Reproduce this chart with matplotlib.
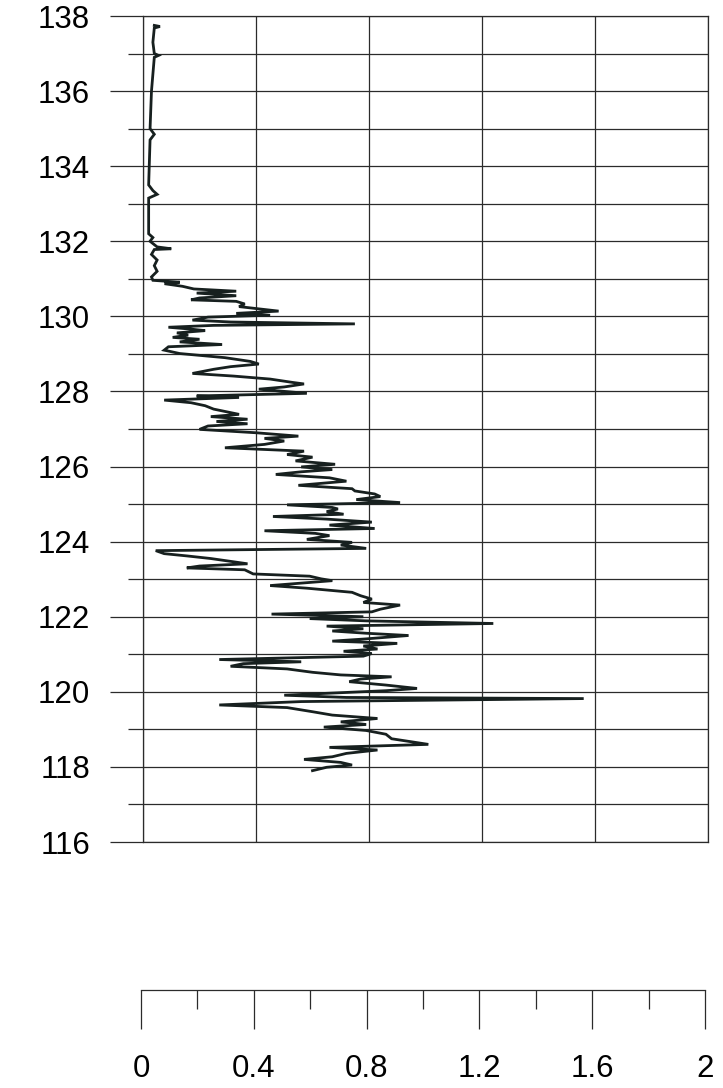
import matplotlib.pyplot as plt
from matplotlib.ticker import MultipleLocator

plt.rcParams["font.family"] = ["Liberation Sans", "DejaVu Sans"]

# depth (y) and value (x) of the log curve, read from top to bottom
depth = [
    137.75, 137.72, 137.68, 137.3, 137.0, 136.95, 136.9, 136.0, 135.0, 134.85,
    134.7, 133.5, 133.35, 133.25, 133.15, 132.2, 132.1, 132.0, 131.85, 131.8,
    131.78, 131.65, 131.5, 131.35, 131.2, 131.05, 130.96, 130.91, 130.87, 130.8,
    130.73, 130.67, 130.62, 130.55, 130.49, 130.44, 130.4, 130.33, 130.26, 130.2,
    130.14, 130.08, 130.03, 129.98, 129.9, 129.85, 129.8, 129.76, 129.71, 129.66,
    129.62, 129.56, 129.5, 129.44, 129.39, 129.32, 129.25, 129.19, 129.1, 129.01,
    128.9, 128.8, 128.73, 128.66, 128.59, 128.48, 128.41, 128.33, 128.24, 128.2,
    128.12, 128.06, 127.95, 127.88, 127.84, 127.77, 127.7, 127.62, 127.53, 127.39,
    127.33, 127.26, 127.2, 127.14, 127.08, 126.99, 126.9, 126.81, 126.75, 126.68,
    126.59, 126.5, 126.41, 126.32, 126.25, 126.15, 126.06, 125.99, 125.92, 125.86,
    125.79, 125.7, 125.61, 125.5, 125.41, 125.35, 125.27, 125.2, 125.12, 125.04,
    124.98, 124.91, 124.87, 124.8, 124.73, 124.67, 124.6, 124.52, 124.44, 124.35,
    124.29, 124.22, 124.16, 124.06, 123.98, 123.91, 123.82, 123.76, 123.68, 123.62,
    123.55, 123.41, 123.35, 123.3, 123.25, 123.14, 123.08, 123.01, 122.96, 122.83,
    122.76, 122.65, 122.56, 122.47, 122.38, 122.31, 122.2, 122.13, 122.07, 122.0,
    121.95, 121.89, 121.82, 121.75, 121.68, 121.62, 121.56, 121.5, 121.41, 121.35,
    121.29, 121.22, 121.14, 121.08, 121.02, 120.95, 120.86, 120.8, 120.75, 120.68,
    120.61, 120.52, 120.45, 120.4, 120.34, 120.27, 120.18, 120.09, 120.03, 119.91,
    119.85, 119.82, 119.74, 119.65, 119.58, 119.47, 119.38, 119.29, 119.2, 119.13,
    119.06, 118.97, 118.87, 118.75, 118.6, 118.52, 118.45, 118.36, 118.27, 118.2,
    118.12, 118.05, 117.99, 117.9,
]
value = [
    0.04, 0.06, 0.04, 0.035, 0.04, 0.055, 0.04, 0.03, 0.025, 0.04,
    0.025, 0.02, 0.035, 0.05, 0.02, 0.02, 0.035, 0.025, 0.05, 0.1,
    0.04, 0.03, 0.05, 0.04, 0.05, 0.03, 0.035, 0.13, 0.076, 0.14,
    0.18, 0.33, 0.19, 0.33, 0.2, 0.17, 0.33, 0.36, 0.34, 0.41,
    0.48, 0.33, 0.45, 0.23, 0.175, 0.31, 0.75, 0.25, 0.09, 0.17,
    0.22, 0.12, 0.16, 0.105, 0.2, 0.13, 0.28, 0.09, 0.075, 0.13,
    0.29, 0.38, 0.41, 0.31, 0.25, 0.175, 0.32, 0.45, 0.53, 0.57,
    0.5, 0.41, 0.58, 0.19, 0.34, 0.075, 0.17, 0.22, 0.25, 0.34,
    0.24, 0.37, 0.26, 0.37, 0.23, 0.2, 0.4, 0.55, 0.43, 0.5,
    0.43, 0.29, 0.57, 0.51, 0.6, 0.54, 0.68, 0.56, 0.67, 0.56,
    0.47, 0.66, 0.72, 0.55, 0.74, 0.75, 0.82, 0.84, 0.755, 0.91,
    0.51, 0.67, 0.69, 0.65, 0.71, 0.46, 0.65, 0.81, 0.66, 0.82,
    0.43, 0.61, 0.66, 0.58, 0.74, 0.7, 0.79, 0.045, 0.075, 0.155,
    0.24, 0.37, 0.2, 0.155, 0.36, 0.39, 0.59, 0.63, 0.67, 0.45,
    0.58, 0.74, 0.77, 0.81, 0.78, 0.91, 0.84, 0.81, 0.455, 0.78,
    0.59, 0.79, 1.24, 0.65, 0.78, 0.67, 0.79, 0.94, 0.79, 0.67,
    0.9, 0.78, 0.83, 0.71, 0.81, 0.78, 0.27, 0.56, 0.355, 0.31,
    0.51, 0.6, 0.7, 0.88, 0.77, 0.73, 0.86, 0.97, 0.86, 0.5,
    0.72, 1.56, 0.56, 0.27, 0.51, 0.6, 0.67, 0.83, 0.7, 0.79,
    0.64, 0.79, 0.86, 0.88, 1.01, 0.66, 0.83, 0.72, 0.67, 0.57,
    0.7, 0.74, 0.65, 0.6,
]

x_ticks = [0, 0.4, 0.8, 1.2, 1.6, 2]
x_labels = ["0", "0.4", "0.8", "1.2", "1.6", "2"]
y_ticks = [116, 118, 120, 122, 124, 126, 128, 130, 132, 134, 136, 138]

W, H = 723, 1088
fig = plt.figure(figsize=(W / 100, H / 100), dpi=100)

grid_col = "#2b2b2b"
left, right = 143 / W, 708 / W

# main log panel
ax = fig.add_axes([left, (H - 842) / H, right - left, (842 - 16) / H])
ax.set_xlim(0, 2)
ax.set_ylim(116, 138)
ax.set_xticks(x_ticks)
ax.set_yticks(y_ticks)
ax.yaxis.set_minor_locator(MultipleLocator(1))
ax.grid(True, which="both", color=grid_col, linewidth=0.9)
ax.tick_params(axis="x", length=0, labelbottom=False)
ax.tick_params(axis="y", which="major", direction="out", length=24,
               width=0.9, color=grid_col, pad=14, labelsize=22.5)
ax.tick_params(axis="y", which="minor", direction="out", length=11,
               width=0.9, color=grid_col)
for s in ax.spines.values():
    s.set_color(grid_col)
    s.set_linewidth(0.9)

ax.plot(value, depth, color="#17201f", linewidth=2.0, solid_joinstyle="miter")

# separate scale bar at the bottom
bx = fig.add_axes([141 / W, (H - 990) / H, (705 - 141) / W, 0.001])
bx.set_xlim(0, 2)
bx.set_yticks([])
bx.patch.set_alpha(0)
for k in ("top", "left", "right"):
    bx.spines[k].set_visible(False)
bx.spines["bottom"].set_color(grid_col)
bx.spines["bottom"].set_linewidth(0.9)
bx.set_xticks(x_ticks)
bx.set_xticklabels(x_labels)
bx.xaxis.set_minor_locator(MultipleLocator(0.2))
bx.tick_params(axis="x", which="major", direction="out", length=28,
               width=0.9, color=grid_col, pad=18, labelsize=22.5)
bx.tick_params(axis="x", which="minor", direction="out", length=14,
               width=0.9, color=grid_col)

fig.savefig("out.png", dpi=100)
